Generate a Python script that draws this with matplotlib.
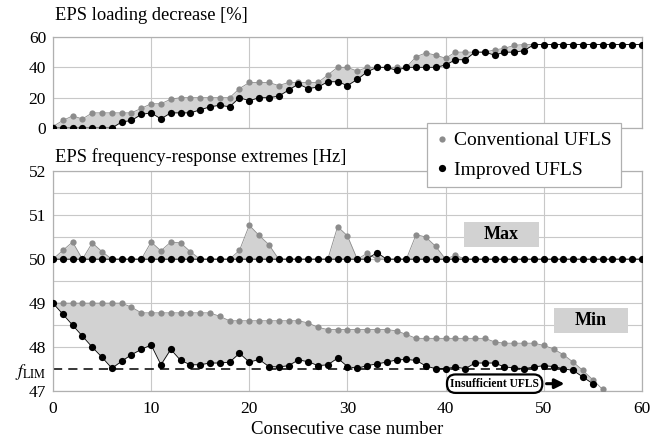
import numpy as np
import matplotlib.pyplot as plt
from matplotlib.lines import Line2D
from matplotlib.patches import Rectangle

plt.rcParams['font.family'] = ['Liberation Serif', 'DejaVu Serif']
plt.rcParams['mathtext.fontset'] = 'stix'

cases = np.arange(61)

# EPS loading decrease [%]
load_conv = [1, 5, 8, 6, 10, 10, 10, 10, 10, 13, 16, 16, 19, 20, 20, 20, 20, 20, 20,
             26, 30, 30, 30, 28, 30, 30, 30, 30, 35, 40, 40, 37.5, 40, 40, 40, 40, 40,
             47, 49.5, 48, 46, 50, 50, 50, 50, 51.5, 52.5, 54.5, 55,
             55, 55, 55, 55, 55, 55, 55, 55, 55, 55, 55, 55]
load_impr = [0, 0, 0, 0, 0, 0, 0, 4, 5, 9, 10, 6, 10, 10, 10, 12, 14, 15, 14,
             20, 18, 20, 20, 21, 25, 29, 26, 27, 30.5, 30.5, 28, 32, 37, 40, 40, 38, 40,
             40, 40, 40, 41.5, 45, 45, 50, 50, 48, 50, 50, 51,
             55, 55, 55, 55, 55, 55, 55, 55, 55, 55, 55, 55]

# frequency maxima [Hz]
fmax_conv = [50, 50.2, 50.39, 50, 50.37, 50.17, 50, 50, 50, 50, 50.39, 50.19, 50.39, 50.37,
             50.17, 50, 50, 50, 50, 50.2, 50.77, 50.54, 50.33, 50, 50, 50, 50, 50, 50,
             50.74, 50.53, 50, 50.13, 50, 50, 50, 50, 50.56, 50.5, 50.29, 50, 50.09,
             50, 50, 50, 50, 50, 50, 50, 50, 50, 50, 50, 50, 50, 50, 50, 50, 50, 50, 50]
fmax_impr = [50] * 33 + [50.15] + [50] * 27

# frequency minima [Hz]
fmin_conv = [49, 49, 49, 49, 49, 49, 49, 49, 48.91, 48.78, 48.78, 48.78, 48.78, 48.78,
             48.78, 48.78, 48.78, 48.7, 48.6, 48.6, 48.6, 48.6, 48.6, 48.6, 48.6, 48.6,
             48.55, 48.45, 48.4, 48.4, 48.4, 48.4, 48.4, 48.4, 48.4, 48.37, 48.29,
             48.2, 48.2, 48.2, 48.2, 48.2, 48.2, 48.2, 48.2, 48.12, 48.09, 48.09, 48.09,
             48.09, 48.04, 47.96, 47.83, 47.66, 47.47, 47.26, 47.04]
fmin_impr = [49, 48.75, 48.5, 48.25, 48.0, 47.77, 47.52, 47.68, 47.83, 47.95, 48.05, 47.6,
             47.95, 47.7, 47.6, 47.6, 47.64, 47.64, 47.66, 47.86, 47.66, 47.72, 47.56,
             47.55, 47.58, 47.71, 47.67, 47.58, 47.6, 47.75, 47.56, 47.52, 47.58, 47.62,
             47.66, 47.71, 47.72, 47.7, 47.57, 47.51, 47.51, 47.55, 47.51, 47.64, 47.64,
             47.64, 47.55, 47.53, 47.51, 47.55, 47.58, 47.56, 47.51, 47.47, 47.32, 47.17]

f_lim = 47.5

GRAY = '#8c8c8c'
FILL = '#d2d2d2'
GRID = '#c8c8c8'


def pair(ax, x, conv, impr):
    # shaded gap between conventional and improved curves
    n = min(len(conv), len(impr))
    ax.fill_between(x[:n], conv[:n], impr[:n], color=FILL, lw=0, zorder=1)
    ax.plot(x[:len(conv)], conv, '-o', color=GRAY, lw=0.6, ms=4.5, mew=0, zorder=3)
    ax.plot(x[:len(impr)], impr, '-o', color='k', lw=0.6, ms=5.2, mew=0, zorder=4)


def style(ax):
    ax.set_xlim(0, 60)
    ax.set_xticks(range(0, 61, 10))
    ax.tick_params(length=0, labelsize=12.5, pad=5)
    ax.tick_params(axis='x', pad=7)
    ax.grid(True, which='both', color=GRID, lw=0.8)
    ax.set_axisbelow(True)
    for s in ax.spines.values():
        s.set_color('#b0b0b0')
        s.set_linewidth(0.9)


def tag(ax, x0, x1, y0, y1, label):
    ax.add_patch(Rectangle((x0, y0), x1 - x0, y1 - y0, fc=FILL, ec='none', zorder=5))
    ax.text((x0 + x1) / 2, (y0 + y1) / 2, label, fontsize=13, fontweight='bold',
            ha='center', va='center', zorder=6)


fig = plt.figure(figsize=(6.5, 4.4), dpi=100)
ax1 = fig.add_axes([0.0815, 0.709, 0.906, 0.207])
ax2 = fig.add_axes([0.0815, 0.111, 0.906, 0.500])

# top panel
pair(ax1, cases, np.array(load_conv), np.array(load_impr))
style(ax1)
ax1.set_ylim(0, 60)
ax1.set_yticks([0, 20, 40, 60])
ax1.set_xticklabels([])

# bottom panel
pair(ax2, cases, np.array(fmax_conv), np.array(fmax_impr))
pair(ax2, cases, np.array(fmin_conv), np.array(fmin_impr))
ax2.plot([0, 53], [f_lim, f_lim], color='k', lw=1.1, dashes=(6, 4), zorder=2)
style(ax2)
ax2.set_ylim(47, 52)
ax2.set_yticks([47, 47.5, 48, 49, 50, 51, 52])
ax2.set_yticklabels(['47', r'$f_{\mathrm{LIM}}$', '48', '49', '50', '51', '52'])
ax2.set_yticks([48.5, 49.5, 50.5, 51.5], minor=True)
ax2.tick_params(which='minor', length=0)
ax2.get_ygridlines()[1].set_visible(False)
ax2.set_xlabel('Consecutive case number', fontsize=13.5, labelpad=3)

tag(ax2, 41.9, 49.5, 50.28, 50.85, 'Max')
tag(ax2, 51.0, 58.6, 48.33, 48.89, 'Min')

ax2.text(45.0, 47.17, 'Insufficient UFLS', fontsize=8.3, fontweight='bold',
         ha='center', va='center', clip_on=False, zorder=6,
         bbox=dict(boxstyle='round,pad=0.28,rounding_size=0.75', fc='white', ec='k', lw=1.6))
ax2.annotate('', xy=(52.4, 47.17), xytext=(50.0, 47.17), zorder=6,
             arrowprops=dict(arrowstyle='-|>', color='k', lw=2.2, mutation_scale=14))

fig.text(0.085, 1 - 15 / 440, 'EPS loading decrease [%]', fontsize=13.3, va='center', ha='left')
fig.text(0.085, 1 - 157 / 440, 'EPS frequency-response extremes [Hz]', fontsize=13.3,
         va='center', ha='left')

handles = [Line2D([], [], ls='', marker='o', color=GRAY, ms=4.5, mew=0),
           Line2D([], [], ls='', marker='o', color='k', ms=5.2, mew=0)]
leg = fig.legend(handles, ['Conventional UFLS', 'Improved UFLS'], loc='upper left',
                 bbox_to_anchor=(427 / 650, 1 - 123 / 440), borderaxespad=0,
                 fontsize=14, fancybox=False, framealpha=1, edgecolor='#b0b0b0',
                 handlelength=0.6, handletextpad=0.35, borderpad=0.45, labelspacing=0.6)
leg.get_frame().set_linewidth(0.9)

fig.savefig('out.png', dpi=100, facecolor='white')
